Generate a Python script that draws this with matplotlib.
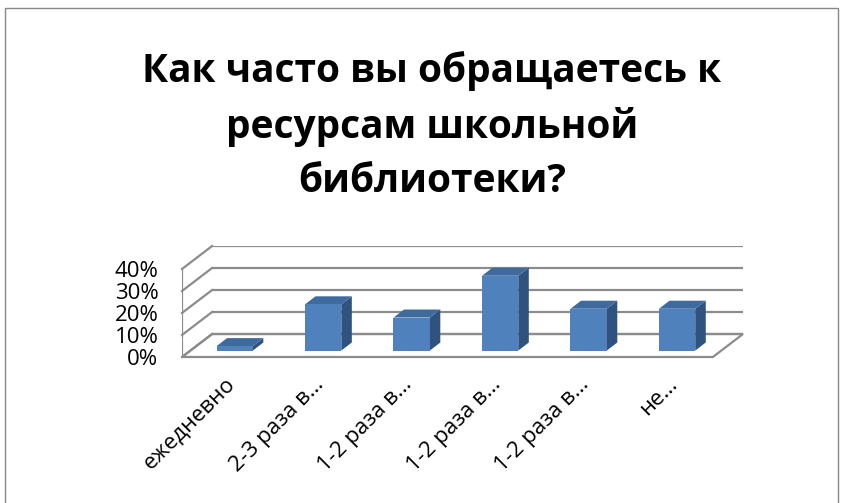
import matplotlib
matplotlib.use("Agg")
import matplotlib.pyplot as plt
from matplotlib.patches import Polygon, Rectangle

plt.rcParams['font.family'] = ['Open Sans', 'DejaVu Sans']

# data
title = "Как часто вы обращаетесь к\nресурсам школьной\nбиблиотеки?"
categories = ["ежедневно", "2-3 раза в…", "1-2 раза в…", "1-2 раза в…",
              "1-2 раза в…", "не…"]
values = [2, 21, 15, 34, 19, 19]
yticks = [0, 10, 20, 30, 40]

# 3d look (oblique projection in data units)
depth_x = 0.34      # depth shift, category units
depth_y = 10.45     # depth shift, percent units
bar_w = 0.41
bar_front = 0.28    # where the bar starts in the depth (fraction)
bar_depth = 0.35

face_col = '#4F81BD'
top_col = '#3F6A9E'
side_col = '#30527F'
grid_col = '#8C8C8C'

W, H = 844, 503
fig = plt.figure(figsize=(W / 100, H / 100), dpi=100)

# outer chart frame
fig.patches.append(Rectangle((5 / W, -0.1), 833 / W, 1.1 - 8 / H,
                             transform=fig.transFigure, fill=False,
                             edgecolor='#888888', linewidth=1.0))

fig.text(432 / W, 1 - 126 / H, title, ha='center', va='center',
         fontsize=28, fontweight='bold', linespacing=1.52)

n = len(categories)
ax = fig.add_axes([182 / W, (H - 357) / H, (743 - 182) / W, (357 - 246) / H])
ax.set_xlim(-0.5, n - 0.5 + depth_x)
ax.set_ylim(0, yticks[-1] + depth_y)
for s in ax.spines.values():
    s.set_visible(False)
ax.set_xticks([])
ax.set_yticks(yticks)
ax.set_yticklabels([f"{v}%" for v in yticks], fontsize=16)
ax.tick_params(axis='y', length=0, pad=17)

x0, x1 = -0.5, n - 0.5
# back wall gridlines + left wall diagonals
for v in yticks:
    ax.plot([x0 + depth_x, x1 + depth_x], [v + depth_y, v + depth_y],
            color=grid_col, lw=1.6, zorder=1, solid_capstyle='butt')
    ax.plot([x0, x0 + depth_x], [v, v + depth_y], color=grid_col, lw=1.6,
            zorder=1, clip_on=False)
# left wall front edge
ax.plot([x0, x0], [0, yticks[-1]], color=grid_col, lw=1.6, zorder=1)
# floor
ax.add_patch(Polygon([(x0, 0), (x1, 0), (x1 + depth_x, depth_y),
                      (x0 + depth_x, depth_y)], closed=True, fill=False,
                     edgecolor=grid_col, lw=1.6, zorder=1, clip_on=False))

# bars
fx, fy = bar_front * depth_x, bar_front * depth_y
dx, dy = bar_depth * depth_x, bar_depth * depth_y
for i, v in enumerate(values):
    left = i - bar_w / 2 + fx
    right = i + bar_w / 2 + fx
    ax.add_patch(Polygon([(right, fy), (right, v + fy), (right + dx, v + fy + dy),
                          (right + dx, fy + dy)], closed=True,
                         facecolor=side_col, edgecolor='none', zorder=3))
    ax.add_patch(Polygon([(left, v + fy), (right, v + fy), (right + dx, v + fy + dy),
                          (left + dx, v + fy + dy)], closed=True,
                         facecolor=top_col, edgecolor='none', zorder=3))
    ax.add_patch(Rectangle((left, fy), bar_w, v, facecolor=face_col,
                           edgecolor='none', zorder=4))

# category labels, rotated like the excel ones
for i, lab in enumerate(categories):
    ax.text(i - 0.02, -7.5, lab, rotation=45, ha='right', va='top',
            rotation_mode='anchor', fontsize=16, clip_on=False)

fig.savefig("out.png", dpi=100)
